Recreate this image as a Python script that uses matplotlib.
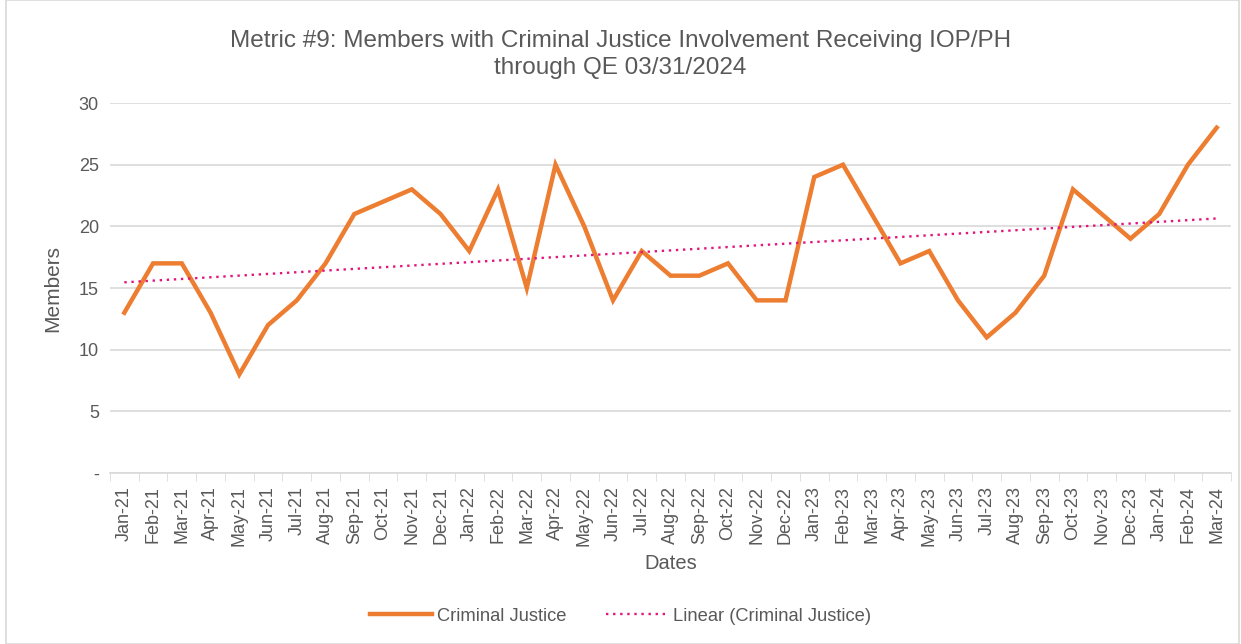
import numpy as np
import matplotlib.pyplot as plt
from matplotlib.patches import Rectangle

months = ['Jan-21', 'Feb-21', 'Mar-21', 'Apr-21', 'May-21', 'Jun-21', 'Jul-21', 'Aug-21',
          'Sep-21', 'Oct-21', 'Nov-21', 'Dec-21', 'Jan-22', 'Feb-22', 'Mar-22', 'Apr-22',
          'May-22', 'Jun-22', 'Jul-22', 'Aug-22', 'Sep-22', 'Oct-22', 'Nov-22', 'Dec-22',
          'Jan-23', 'Feb-23', 'Mar-23', 'Apr-23', 'May-23', 'Jun-23', 'Jul-23', 'Aug-23',
          'Sep-23', 'Oct-23', 'Nov-23', 'Dec-23', 'Jan-24', 'Feb-24', 'Mar-24']
members = [13, 17, 17, 13, 8, 12, 14, 17, 21, 22, 23, 21, 18, 23, 15, 25, 20, 14, 18, 16,
           16, 17, 14, 14, 24, 25, 21, 17, 18, 14, 11, 13, 16, 23, 21, 19, 21, 25, 28]
y_ticks = [0, 5, 10, 15, 20, 25, 30]
y_labels = ['-', '5', '10', '15', '20', '25', '30']

plt.rcParams['font.family'] = ['Liberation Sans', 'DejaVu Sans']
txt = '#595959'

fig = plt.figure(figsize=(12.41, 6.44), dpi=100)
ax = fig.add_axes([0.0886, 0.2655, 0.9034, 0.5745])

x = np.arange(len(months))
ax.plot(x, members, color='#ED7D31', lw=3.2, solid_joinstyle='miter', label='Criminal Justice', zorder=3)
# excel style linear trendline
slope, icpt = np.polyfit(x, members, 1)
ax.plot(x, slope * x + icpt, color='#E0157D', lw=1.7, ls=(0, (1, 2)), label='Linear (Criminal Justice)', zorder=4)

ax.set_xlim(-0.5, len(months) - 0.5)
ax.set_ylim(0, 30)
ax.set_yticks(y_ticks)
ax.set_yticklabels(y_labels)
ax.set_xticks(x)
ax.set_xticklabels(months, rotation=90)
ax.set_xticks(np.arange(-0.5, len(months)), minor=True)
ax.tick_params(axis='x', which='major', length=0, pad=9.5, labelsize=13, colors=txt)
ax.tick_params(axis='x', which='minor', length=6, color='#D9D9D9')
ax.tick_params(axis='y', length=0, pad=8, labelsize=13, colors=txt)
ax.grid(axis='y', color='#D9D9D9', lw=1.2)
ax.set_axisbelow(True)
for s in ['top', 'right', 'left']:
    ax.spines[s].set_visible(False)
ax.spines['bottom'].set_color('#D9D9D9')
ax.spines['bottom'].set_linewidth(1.2)

ax.set_ylabel('Members', fontsize=15, color=txt, labelpad=12)
ax.set_xlabel('Dates', fontsize=14.5, color=txt, labelpad=6)
fig.text(0.5, 0.915, 'Metric #9: Members with Criminal Justice Involvement Receiving IOP/PH\nthrough QE 03/31/2024',
         ha='center', va='center', fontsize=17.5, color=txt, linespacing=1.3)
fig.legend(loc='center', bbox_to_anchor=(0.5, 0.043), ncol=2, frameon=False, fontsize=13.2,
           labelcolor=txt, handlelength=3.4, columnspacing=2.2, handletextpad=0.25)
fig.patches.append(Rectangle((0.005, 0.0), 0.993, 1.0, transform=fig.transFigure,
                             fill=False, edgecolor='#D9D9D9', lw=1.2))

fig.savefig('out.png', dpi=100)
